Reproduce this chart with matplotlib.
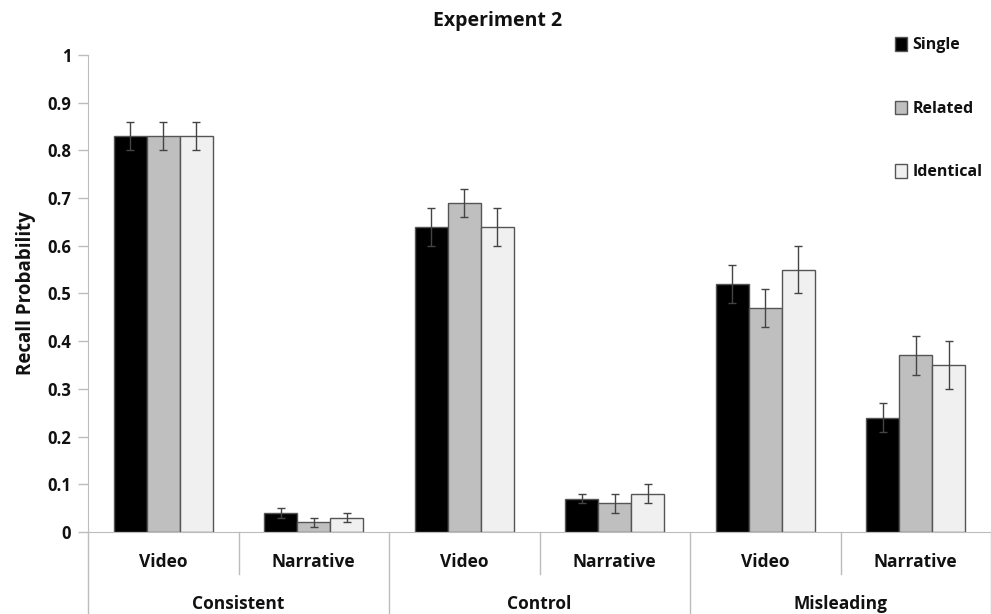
import matplotlib
matplotlib.use("Agg")
import matplotlib.pyplot as plt
import numpy as np

plt.rcParams['font.family'] = ['Open Sans', 'DejaVu Sans']

conditions = ["Consistent", "Control", "Misleading"]
sources = ["Video", "Narrative"]
series = ["Single", "Related", "Identical"]

single = [0.83, 0.04, 0.64, 0.07, 0.52, 0.24]
related = [0.83, 0.02, 0.69, 0.06, 0.47, 0.37]
identical = [0.83, 0.03, 0.64, 0.08, 0.55, 0.35]

single_err = [0.03, 0.01, 0.04, 0.01, 0.04, 0.03]
related_err = [0.03, 0.01, 0.03, 0.02, 0.04, 0.04]
identical_err = [0.03, 0.01, 0.04, 0.02, 0.05, 0.05]

yticks = [0, 0.1, 0.2, 0.3, 0.4, 0.5, 0.6, 0.7, 0.8, 0.9, 1]
ytick_labels = ["0", "0.1", "0.2", "0.3", "0.4", "0.5", "0.6", "0.7", "0.8", "0.9", "1"]

colors = ["#000000", "#bfbfbf", "#f0f0f0"]
edge = "#555555"
axis_grey = "#bcbcbc"
text_col = "#111111"

fig = plt.figure(figsize=(9.91, 6.14), dpi=100)
ax = fig.add_axes([0.0888, 0.1336, 0.9112, 0.7768])

n = len(single)
x = np.arange(n)
w = 0.22
values = [single, related, identical]
errs = [single_err, related_err, identical_err]
for i, (vals, er, c, name) in enumerate(zip(values, errs, colors, series)):
    ax.bar(x + (i - 1) * w, vals, width=w, color=c, edgecolor=edge,
           linewidth=1.0, label=name, zorder=2)
    ax.errorbar(x + (i - 1) * w, vals, yerr=er, fmt="none", ecolor="#444444",
                elinewidth=1.0, capsize=3, capthick=1.0, zorder=3)

ax.set_xlim(-0.5, n - 0.5)
ax.set_ylim(0, 1)
ax.set_yticks(yticks)
ax.set_yticklabels(ytick_labels, fontsize=12, fontweight="bold", color=text_col)
ax.tick_params(axis="y", length=7, color=axis_grey, width=1, pad=5)
ax.set_xticks([])

for s in ["top", "right"]:
    ax.spines[s].set_visible(False)
ax.spines["left"].set_color(axis_grey)
ax.spines["bottom"].set_color(axis_grey)

# two-level category axis below the plot
trans = ax.get_xaxis_transform()
inner_drop = -0.088
outer_drop = -0.18
for k in range(n):
    ax.text(k, -0.062, sources[k % 2], transform=trans, ha="center", va="center",
            fontsize=12.5, fontweight="bold", color=text_col)
for g, cond in enumerate(conditions):
    ax.text(2 * g + 0.5, -0.152, cond, transform=trans, ha="center", va="center",
            fontsize=12.5, fontweight="bold", color=text_col)
for b in [0.5, 2.5, 4.5]:
    ax.plot([b, b], [0, inner_drop], transform=trans, color=axis_grey,
            lw=1, clip_on=False)
for b in [-0.5, 1.5, 3.5, 5.5]:
    ax.plot([b, b], [0, outer_drop], transform=trans, color=axis_grey,
            lw=1, clip_on=False)

ax.set_ylabel("Recall Probability", fontsize=13.5, fontweight="bold",
              color=text_col, labelpad=8)
fig.text(0.502, 0.966, "Experiment 2", ha="center", va="center",
         fontsize=14, fontweight="bold", color=text_col)

leg = fig.legend(loc="upper left", bbox_to_anchor=(0.889, 0.963), frameon=False,
                 prop={"weight": "bold", "size": 11.5},
                 handlelength=0.75, handleheight=0.95, handletextpad=0.3,
                 labelspacing=2.95)
for t in leg.get_texts():
    t.set_color(text_col)

fig.savefig("out.png", dpi=100)
